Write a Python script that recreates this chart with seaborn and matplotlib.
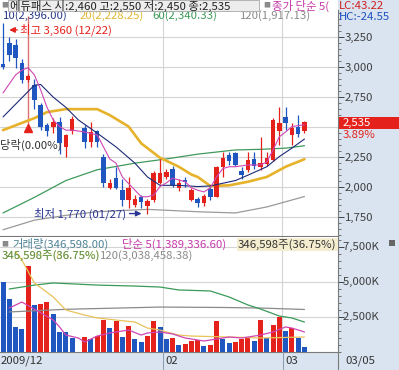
import numpy as np
import matplotlib
matplotlib.use("Agg")
import matplotlib.pyplot as plt
import matplotlib.patches as patches
from matplotlib.ticker import FuncFormatter, MultipleLocator, FixedLocator, NullFormatter
import seaborn as sns

# ---- data ----
dates = ["12/22", "12/23", "12/24", "12/28", "12/29", "12/30",
         "01/04", "01/05", "01/06", "01/07", "01/08", "01/11", "01/12", "01/13", "01/14",
         "01/15", "01/18", "01/19", "01/20", "01/21", "01/22", "01/25", "01/26", "01/27",
         "01/28", "01/29",
         "02/01", "02/02", "02/03", "02/04", "02/05", "02/08", "02/09", "02/10", "02/11",
         "02/12", "02/16", "02/17", "02/18", "02/19", "02/22", "02/23", "02/24", "02/25",
         "02/26",
         "03/02", "03/03", "03/04", "03/05"]
nan = np.nan
opens = [3020, 3200, 3180, 3030, 2890, 2850, 2680, 2510, 2500, 2540, 2330, 2460, nan,
         2490, 2370, 2460, 2250, 1990, 2070, 1970, 1890, 1850, 1910, 1840, 1890, 2030,
         2080, 2150, 1990, 2055, 1890, 1895, 1860, 1980, 1915, 2160, 2260, 2280, 2130,
         2140, 2230, 2160, 2190, 2220, 2460, 2580, 2430, 2500, 2460]
highs = [3360, 3250, 3230, 3060, 2940, 2900, 2700, 2530, 2570, 2580, 2440, 2590, nan,
         2510, 2540, 2470, 2270, 2060, 2160, 2060, 2080, 1930, 1930, 1900, 2130, 2230,
         2150, 2170, 2060, 2080, 1990, 1910, 1940, 2000, 2170, 2290, 2290, 2290, 2160,
         2290, 2290, 2410, 2290, 2570, 2660, 2660, 2530, 2600, 2550]
lows = [2980, 3050, 2990, 2860, 2870, 2650, 2470, 2420, 2450, 2270, 2250, 2440, nan,
        2320, 2330, 2330, 2000, 1980, 1980, 1840, 1820, 1830, 1820, 1770, 1870, 2020,
        2060, 2000, 1960, 2000, 1880, 1830, 1840, 1890, 1910, 2080, 2180, 2170, 2060,
        2120, 2150, 2140, 2170, 2210, 2350, 2470, 2350, 2410, 2450]
closes = [3000, 3100, 3070, 2890, 2920, 2720, 2500, 2460, 2540, 2360, 2430, 2560, nan,
          2370, 2455, 2370, 2030, 2030, 1990, 1890, 1990, 1900, 1870, 1880, 2110, 2110,
          2120, 2010, 2030, 2035, 1970, 1865, 1920, 1915, 2160, 2240, 2210, 2180, 2100,
          2220, 2170, 2200, 2240, 2555, 2530, 2530, 2490, 2440, 2535]

# price moving averages: (candle index, value)
ma5_idx = [0, 2, 3, 4, 5, 6, 7, 8, 9, 10, 11, 13, 15, 16, 17, 18, 19, 21, 22, 23, 24, 25,
           26, 27, 29, 30, 31, 32, 33, 34, 35, 36, 37, 39, 41, 42, 43, 44, 45, 46, 48]
ma5_val = [2780, 2930, 2970, 2990, 2930, 2805, 2660, 2555, 2500, 2470, 2470, 2455, 2430,
           2330, 2230, 2195, 2080, 1970, 1915, 1915, 1930, 2000, 2030, 2070, 2040, 1990,
           1970, 1955, 1990, 2080, 2150, 2165, 2165, 2180, 2180, 2205, 2305, 2415, 2455,
           2500, 2515]
ma10_idx = [0, 5, 6, 8, 10, 12, 15, 18, 21, 23, 25, 28, 31, 33, 37, 39, 42, 44, 46, 48]
ma10_val = [2580, 2845, 2850, 2745, 2660, 2555, 2445, 2330, 2195, 2080, 2010, 2010, 2000,
            2005, 2050, 2095, 2165, 2250, 2320, 2396]
ma20_idx = [0, 3, 5, 7, 10, 13, 15, 17, 20, 22, 25, 28, 30, 31, 33, 36, 39, 42, 45, 48]
ma20_val = [2470, 2530, 2570, 2620, 2645, 2645, 2645, 2595, 2500, 2360, 2240, 2165, 2100,
            2080, 2005, 2010, 2040, 2080, 2165, 2228]
ma60_idx = [0, 5, 10, 15, 21, 26, 31, 37, 41, 45, 48]
ma60_val = [1780, 1910, 2050, 2140, 2195, 2230, 2270, 2305, 2310, 2320, 2340]
ma120_idx = [0, 5, 10, 15, 19, 23, 31, 37, 42, 48]
ma120_val = [1640, 1720, 1760, 1790, 1800, 1810, 1790, 1780, 1830, 1917]

# volume (thousand shares) and bar colour flag (1 = up / red)
volume = [5020, 3760, 1810, 1640, 6140, 3360, 3400, 3590, 2710, 1450, 1450, 1020, nan,
          1090, 905, 1140, 2285, 1690, 2210, 1090, 1860, 905, 735, 1140, 2210, 1760,
          905, 975, 500, 570, 810, 855, 450, 500, 2240, 930, 620, 735, 930, 1020, 810,
          2285, 1020, 1930, 2475, 1520, 1690, 975, 347]
vol_up = [0, 0, 0, 0, 1, 0, 1, 1, 0, 0, 0, 0, 0, 1, 0, 1, 1, 0, 1, 0, 1, 0, 0, 1, 1, 0,
          0, 1, 0, 1, 1, 1, 0, 1, 1, 0, 0, 1, 1, 1, 0, 1, 0, 1, 1, 0, 1, 0, 0]
vma5_idx = [1, 3, 8, 9, 10, 12, 13, 15, 17, 20, 22, 23, 25, 27, 29, 32, 36, 38, 41, 43,
            45, 46, 48]
vma5_val = [3140, 3570, 2285, 1790, 1210, 1000, 715, 1140, 1360, 1570, 1210, 1360, 1430,
            1290, 1000, 785, 1070, 1000, 1210, 1430, 1790, 1710, 1430]
vma20_idx = [2, 3, 5, 8, 10, 13, 15, 18, 21, 23, 25, 26, 28, 30, 36, 41, 48]
vma20_val = [7140, 6570, 4930, 3930, 3000, 2640, 2430, 2285, 2140, 1710, 1570, 1430, 1210,
             1140, 1070, 1000, 1070]
vma60_idx = [1, 5, 8, 15, 21, 25, 28, 33, 36, 39, 41, 44, 46, 48]
vma60_val = [4500, 4780, 4930, 4780, 4710, 4640, 4430, 4360, 3930, 3360, 3070, 2570, 2430,
             2140]
vma120_idx = [1, 10, 25, 35, 41, 48]
vma120_val = [2860, 3050, 3210, 3180, 3140, 3038]

vol_ticks = [2500, 5000, 7500]

# ---- style ----
sns.set_theme(style="white")
plt.rcParams["font.family"] = ["Noto Sans CJK KR", "DejaVu Sans"]

RED = "#e4221b"
BLUE = "#1f56c0"
PANEL = "#d9e4f0"
GRID = "#d4d4d4"
fs = 8.2

W, H = 399, 370
fig = plt.figure(figsize=(W / 100, H / 100), dpi=100)


def fx(x):
    return x / W


def fy(y):
    return 1 - y / H


def box(x0, y0, x1, y1):
    return [fx(x0), fy(y1), fx(x1) - fx(x0), fy(y0) - fy(y1)]


# right axis panel and date band (behind the axes)
fig.patches.append(patches.Rectangle((fx(338), 0), 1, 1, transform=fig.transFigure,
                                     facecolor=PANEL, edgecolor="none", zorder=-2))
fig.patches.append(patches.Rectangle((0, 0), 1, fy(352), transform=fig.transFigure,
                                     facecolor=PANEL, edgecolor="none", zorder=-2))

ax = fig.add_axes(box(0, 10, 338, 236))
axv = fig.add_axes(box(0, 237, 338, 352))

xs = np.arange(len(dates))
o = np.array(opens, float)
h = np.array(highs, float)
l = np.array(lows, float)
c = np.array(closes, float)
ok = ~np.isnan(c)
col = np.where(c >= o, RED, BLUE)

# ---- price panel ----
ax.vlines(xs[ok], l[ok], h[ok], colors=col[ok], linewidth=0.9, zorder=3)
body = np.maximum(np.abs(c - o), 8)
ax.bar(xs[ok], body[ok], bottom=np.minimum(o, c)[ok], width=0.72, color=col[ok],
       linewidth=0, zorder=4)

sns.lineplot(x=ma120_idx, y=ma120_val, ax=ax, color="#9a9a9a", linewidth=0.9, zorder=2)
sns.lineplot(x=ma60_idx, y=ma60_val, ax=ax, color="#3f9a5c", linewidth=0.9, zorder=2)
sns.lineplot(x=ma20_idx, y=ma20_val, ax=ax, color="#e6b22a", linewidth=1.9, zorder=2)
sns.lineplot(x=ma10_idx, y=ma10_val, ax=ax, color="#1c2a78", linewidth=0.8, zorder=5)
sns.lineplot(x=ma5_idx, y=ma5_val, ax=ax, color="#cf46b4", linewidth=0.8, zorder=5)

# high / low / ex-dividend marks
hi = int(np.nanargmax(h))
lo = int(np.nanargmin(l))
ax.annotate("", xy=(hi + 0.55, h[hi] - 55), xytext=(hi + 2.7, h[hi] - 55),
            arrowprops=dict(arrowstyle="-|>", color=RED, lw=1.0, mutation_scale=8))
ax.text(hi + 2.7, h[hi] - 55, "최고 3,360 (12/22)", color=RED, fontsize=fs,
        ha="left", va="center")
ax.annotate("", xy=(lo - 0.5, l[lo] + 5), xytext=(lo - 3.3, l[lo] + 5),
            arrowprops=dict(arrowstyle="-|>", color="#283593", lw=1.0, mutation_scale=8))
ax.text(lo - 3.4, l[lo] + 5, "최저 1,770 (01/27)", color="#283593", fontsize=fs,
        ha="right", va="center")
ax.vlines(4, 2515, 3420, color="#e07070", linewidth=1.0, zorder=1)
ax.plot([4], [2490], marker="^", color=RED, markersize=6, zorder=6)
ax.text(-0.45, 2345, "당락(0.00%)", color="#333333", fontsize=fs, ha="left",
        va="center")

for xv in (25.5, 44.5):
    ax.axvline(xv, color=GRID, linewidth=0.8, zorder=0)

# ---- volume panel ----
v = np.array(volume, float)
okv = ~np.isnan(v)
vcol = np.where(np.array(vol_up) == 1, RED, BLUE)
axv.bar(xs[okv], v[okv], width=0.8, color=vcol[okv], linewidth=0, zorder=3)
sns.lineplot(x=vma120_idx, y=vma120_val, ax=axv, color="#8a8a8a", linewidth=0.9, zorder=4)
sns.lineplot(x=vma60_idx, y=vma60_val, ax=axv, color="#3a9a58", linewidth=0.9, zorder=4)
sns.lineplot(x=vma20_idx, y=vma20_val, ax=axv, color="#e8c25a", linewidth=0.9, zorder=4)
sns.lineplot(x=vma5_idx, y=vma5_val, ax=axv, color="#cf46b4", linewidth=0.9, zorder=4)
for xv in (25.5, 44.5):
    axv.axvline(xv, color=GRID, linewidth=0.8, zorder=0)

# ---- axes cosmetics (after everything is drawn) ----
for a in (ax, axv):
    a.set_xlim(-0.48, 53.34)
    a.set_xticks([])
    a.yaxis.tick_right()
    a.tick_params(axis="y", which="major", direction="out", length=4, width=0.7, pad=1,
                  labelsize=fs, colors="#404040", right=True, left=False)
    a.tick_params(axis="y", which="minor", direction="out", length=2, width=0.6,
                  colors="#606060", right=True, left=False)
    for s in ("left", "top"):
        a.spines[s].set_visible(False)
    for s in ("right", "bottom"):
        a.spines[s].set_color("#7a7a7a")
        a.spines[s].set_linewidth(0.8)

ax.set_ylim(1588, 3471)
ax.yaxis.set_major_locator(MultipleLocator(250))
ax.yaxis.set_minor_locator(MultipleLocator(50))
# the 2,500 label sits under the current-price tag
ax.yaxis.set_major_formatter(FuncFormatter(lambda t, p: "" if t == 2500 else f"{t:,.0f}"))
ax.grid(axis="y", which="major", color=GRID, linewidth=0.8)

axv.set_ylim(0, 8214)
axv.yaxis.set_major_locator(FixedLocator(vol_ticks))
axv.yaxis.set_minor_locator(MultipleLocator(500))
axv.yaxis.set_major_formatter(NullFormatter())
axv.grid(axis="y", which="major", color=GRID, linewidth=0.8)
# volume tick labels placed on the axis scale
for t in vol_ticks:
    axv.text(1.0, t, f"  {t:,.0f}K", transform=axv.get_yaxis_transform(), ha="left",
             va="center", fontsize=fs, color="#404040", clip_on=False, zorder=10)

# ---- header texts ----
fig.patches.append(patches.Rectangle((fx(8), fy(11)), fx(251), fy(0) - fy(11),
                                     transform=fig.transFigure, facecolor="#ededed",
                                     edgecolor="#a8a8a8", linewidth=0.6, zorder=5))
fig.text(fx(1), fy(5.5), "■", color="#8a8a8a", fontsize=5, va="center", zorder=6)
fig.text(fx(10), fy(5.5), "에듀패스 시:2,460 고:2,550 저:2,450 종:2,535", color="#222222",
         fontsize=fs, va="center", zorder=6)
fig.text(fx(263), fy(5.5), "■", color="#8a8a8a", fontsize=5, va="center", zorder=6)
fig.text(fx(272), fy(5.5), "종가 단순 5(", color="#c63aa8", fontsize=fs, va="center",
         zorder=6)
fig.text(fx(339), fy(6), "LC:43.22", color="#d02020", fontsize=fs, va="center", zorder=6)
fig.text(fx(339), fy(17), "HC:-24.55", color="#2050c0", fontsize=fs, va="center", zorder=6)
fig.text(fx(3), fy(16), "10(2,396.00)", color="#2a3a8a", fontsize=fs, va="center")
fig.text(fx(80), fy(16), "20(2,228.25)", color="#e0b830", fontsize=fs, va="center")
fig.text(fx(152), fy(16), "60(2,340.33)", color="#3a9a58", fontsize=fs, va="center")
fig.text(fx(240), fy(16), "120(1,917.13)", color="#8a8a8a", fontsize=fs, va="center")

# current price tag
fig.patches.append(patches.Rectangle((fx(339), fy(129)), 1, fy(117) - fy(129),
                                     transform=fig.transFigure, facecolor=RED,
                                     edgecolor="none", zorder=5))
fig.text(fx(343), fy(123), "2,535", color="white", fontsize=fs, va="center", zorder=6)
fig.text(fx(343), fy(135), "3.89%", color=RED, fontsize=fs, va="center", zorder=6)

# volume headers
fig.text(fx(1), fy(244), "■", color="#8a8a8a", fontsize=5, va="center")
fig.text(fx(12), fy(244), "거래량(346,598.00)", color="#4f8496", fontsize=fs, va="center")
fig.text(fx(122), fy(244), "단순 5(1,389,336.60)", color="#c63aa8", fontsize=fs,
         va="center")
fig.patches.append(patches.Rectangle((fx(237), fy(251)), fx(101), fy(238) - fy(251),
                                     transform=fig.transFigure, facecolor="#f4edcf",
                                     edgecolor="none", zorder=5))
fig.text(fx(238), fy(244.5), "346,598주(36.75%)", color="#333333", fontsize=fs,
         va="center", zorder=6)
fig.text(fx(2), fy(256), "345,590주(86.75%)", color="#d8b840", fontsize=fs, va="center")
fig.text(fx(2), fy(256), "346,598주(36.75%)", color="#3a8a50", fontsize=fs, va="center",
         alpha=0.8)
fig.text(fx(100), fy(256), "120(3,038,458.38)", color="#8a8a8a", fontsize=fs, va="center")
# small close icon of the volume pane
fig.patches.append(patches.Rectangle((fx(389), fy(246)), fx(6), fy(240) - fy(246),
                                     transform=fig.transFigure, facecolor="#666666",
                                     edgecolor="none", zorder=5))

# date band
for xp in (163, 283):
    fig.lines.append(plt.Line2D([fx(xp), fx(xp)], [0, fy(352)], transform=fig.transFigure,
                                color="#8a9aaa", linewidth=0.7))
fig.lines.append(plt.Line2D([fx(338), fx(338)], [0, fy(352)], transform=fig.transFigure,
                            color="#7a7a7a", linewidth=0.8))
fig.text(fx(1), fy(361), "2009/12", color="#333333", fontsize=fs, va="center")
fig.text(fx(165), fy(361), "02", color="#333333", fontsize=fs, va="center")
fig.text(fx(285), fy(361), "03", color="#333333", fontsize=fs, va="center")
fig.text(fx(345), fy(361), "03/05", color="#333333", fontsize=fs, va="center")

fig.savefig("out.png", dpi=100)
